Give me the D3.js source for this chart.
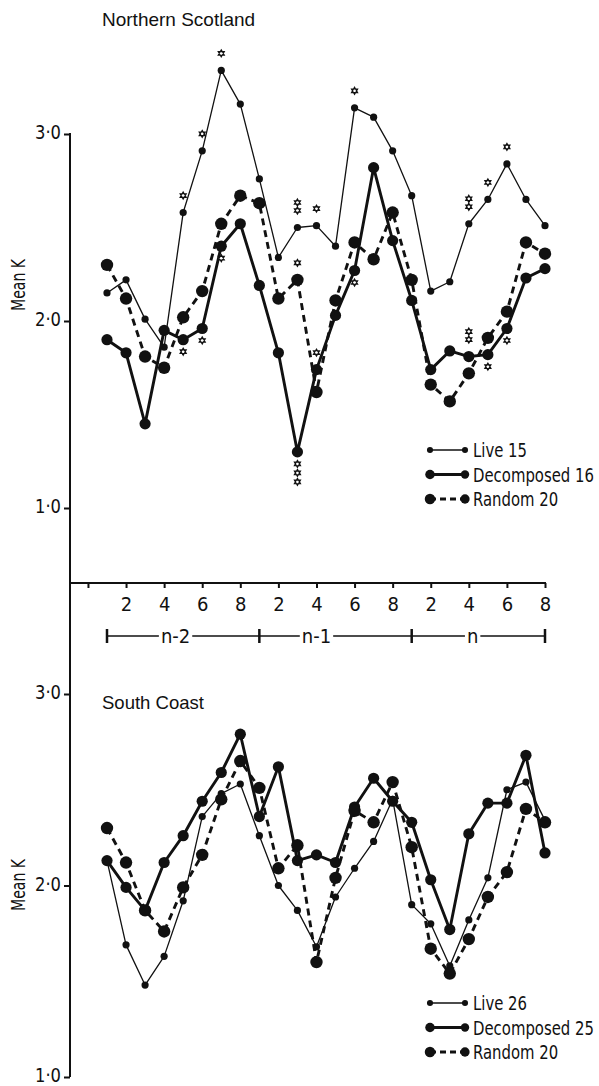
<!DOCTYPE html>
<html>
<head>
<meta charset="utf-8">
<script src="https://cdn.jsdelivr.net/npm/d3@7"></script>
<style>
  body { margin: 0; background: #fff; }
  text { font-family: "Liberation Sans Narrow", "DejaVu Sans Condensed", sans-serif; fill: #111; }
  text.title { font-family: "Liberation Sans", Arial, sans-serif; }
</style>
</head>
<body>
<div id="chart"></div>
<script>
// months 1..8 of three successive periods
const months = d3.range(24);
const tickMonths = d3.range(-1, 24, 2);
const tickLabels = ['', '2', '4', '6', '8', '2', '4', '6', '8', '2', '4', '6', '8'];
const periods = ['n-2', 'n-1', 'n'];
const periodBounds = [0, 8, 16, 23];
const yTicks = [1, 2, 3];

// Northern Scotland
const nsLive = [2.15, 2.22, 2.01, 1.86, 2.58, 2.91, 3.34, 3.16, 2.76, 2.34, 2.50, 2.51,
                2.40, 3.14, 3.09, 2.91, 2.67, 2.16, 2.21, 2.52, 2.65, 2.84, 2.65, 2.51];
const nsDecomposed = [1.90, 1.83, 1.45, 1.95, 1.90, 1.96, 2.40, 2.52, 2.19, 1.83, 1.30, 1.74,
                      2.03, 2.27, 2.82, 2.43, 2.11, 1.74, 1.84, 1.81, 1.82, 1.96, 2.23, 2.28];
const nsRandom = [2.30, 2.12, 1.81, 1.75, 2.02, 2.16, 2.52, 2.67, 2.63, 2.12, 2.22, 1.62,
                  2.11, 2.42, 2.33, 2.58, 2.22, 1.66, 1.57, 1.72, 1.91, 2.05, 2.42, 2.36];
const nsNames = ['Live 15', 'Decomposed 16', 'Random 20'];
// significance marks: [series, month index, count, above(-1)/below(+1)]
const nsStars = [
  ['live', 4, 1, -1], ['live', 5, 1, -1], ['live', 6, 1, -1],
  ['decomposed', 4, 1, 1], ['decomposed', 5, 1, 1], ['decomposed', 6, 1, 1],
  ['live', 10, 2, -1], ['live', 11, 1, -1], ['random', 10, 1, -1],
  ['decomposed', 10, 3, 1], ['decomposed', 11, 1, -1], ['live', 13, 1, -1],
  ['decomposed', 13, 1, 1], ['live', 19, 2, -1], ['live', 20, 1, -1], ['live', 21, 1, -1],
  ['decomposed', 19, 2, -1], ['decomposed', 20, 1, 1], ['decomposed', 21, 1, 1]
];

// South Coast
const scLive = [2.13, 1.69, 1.48, 1.63, 1.92, 2.36, 2.48, 2.53, 2.26, 2.00, 1.87, 1.68,
                1.94, 2.09, 2.23, 2.45, 1.90, 1.80, 1.58, 1.82, 2.04, 2.50, 2.54, 2.34];
const scDecomposed = [2.13, 1.99, 1.87, 2.12, 2.26, 2.44, 2.59, 2.79, 2.36, 2.62, 2.13, 2.16,
                      2.12, 2.41, 2.56, 2.44, 2.33, 2.03, 1.77, 2.27, 2.43, 2.43, 2.68, 2.17];
const scRandom = [2.30, 2.12, 1.87, 1.76, 1.99, 2.16, 2.45, 2.65, 2.51, 2.09, 2.21, 1.60,
                  2.04, 2.39, 2.33, 2.54, 2.20, 1.67, 1.54, 1.72, 1.94, 2.07, 2.40, 2.33];
const scNames = ['Live 26', 'Decomposed 25', 'Random 20'];

const width = 599, height = 1086;
const axisX = 70;

const style = {
  live: { w: 1.3, r: 3.6, dash: null },
  decomposed: { w: 2.9, r: 5.6, dash: null },
  random: { w: 2.9, r: 6.2, dash: '7,5' }
};
const keys = ['live', 'decomposed', 'random'];

const svg = d3.select('#chart').append('svg')
  .attr('width', width)
  .attr('height', height);

// narrow a text's glyphs (not its height) when the font runs wider than the space
function squeeze(sel, maxW) {
  sel.each(function () {
    const w = this.getComputedTextLength();
    if (w > maxW) {
      d3.select(this).attr('textLength', maxW).attr('lengthAdjust', 'spacingAndGlyphs');
    }
  });
}

const x = d3.scaleLinear().domain([0, 23]).range([107, 545]);
const yTop = d3.scaleLinear().domain([1, 3]).range([508, 134]);
const yBot = d3.scaleLinear().domain([1, 3]).range([1077, 694]);

// one long vertical axis line through both panels
svg.append('line')
  .attr('x1', axisX).attr('x2', axisX)
  .attr('y1', yTop(3) - 1).attr('y2', yBot(1))
  .attr('stroke', '#111').attr('stroke-width', 2);

const fmt = d => d.toFixed(1).replace('.', '\u00b7');

function yAxis(y) {
  const g = svg.append('g')
    .attr('transform', `translate(${axisX},0)`)
    .call(d3.axisLeft(y).tickValues(yTicks).tickFormat(fmt).tickSize(6).tickPadding(3));
  g.select('.domain').remove();
  g.selectAll('line').attr('stroke', '#111').attr('stroke-width', 2);
  g.selectAll('text').attr('font-size', 20).attr('fill', '#111')
    .attr('font-family', null)
    .attr('dy', '0.24em')
    .call(squeeze, 26);
}

function star(cx, cy) {
  const r = 3.6;
  const tri = a => d3.range(3).map(k => {
    const t = a + k * 2 * Math.PI / 3;
    return [cx + r * Math.sin(t), cy - r * Math.cos(t)];
  });
  return 'M' + tri(0).join('L') + 'Z' + 'M' + tri(Math.PI).join('L') + 'Z';
}

function panel(y, data, names, stars, title, titleY, titleW, meanKY, legendY) {
  yAxis(y);

  svg.append('text')
    .attr('class', 'title')
    .attr('x', 102).attr('y', titleY)
    .attr('font-size', 19)
    .text(title)
    .call(squeeze, titleW);

  svg.append('text')
    .attr('transform', `translate(25,${meanKY}) rotate(-90)`)
    .attr('text-anchor', 'middle')
    .attr('font-size', 20)
    .text('Mean K')
    .call(squeeze, 52);

  keys.forEach(k => {
    const s = style[k];
    const line = d3.line().x((d, i) => x(i)).y(d => y(d));
    svg.append('path')
      .datum(data[k])
      .attr('d', line)
      .attr('fill', 'none')
      .attr('stroke', '#111')
      .attr('stroke-width', s.w)
      .attr('stroke-dasharray', s.dash)
      .attr('stroke-linejoin', 'round');
    svg.append('g').selectAll('circle')
      .data(data[k])
      .enter()
      .append('circle')
      .attr('cx', (d, i) => x(i))
      .attr('cy', d => y(d))
      .attr('r', s.r)
      .attr('fill', '#111');
  });

  const starPts = [];
  stars.forEach(([k, i, n, side]) => {
    for (let j = 0; j < n; j++) {
      const off = side < 0 ? -(17 + j * 8) : (12 + j * 9);
      starPts.push([x(i), y(data[k][i]) + off]);
    }
  });
  svg.append('g').selectAll('path')
    .data(starPts)
    .enter()
    .append('path')
    .attr('d', d => star(d[0], d[1]))
    .attr('fill', '#fff')
    .attr('stroke', '#111')
    .attr('stroke-width', 1.1);

  // legend
  const lg = svg.append('g').attr('transform', `translate(430,${legendY})`);
  const texts = [];
  keys.forEach((k, i) => {
    const s = style[k];
    const row = lg.append('g').attr('transform', `translate(0,${i * 24.5})`);
    row.append('line')
      .attr('x1', 0).attr('x2', 35)
      .attr('stroke', '#111')
      .attr('stroke-width', s.w)
      .attr('stroke-dasharray', s.dash ? '6,4' : null);
    row.append('circle').attr('cx', 0).attr('r', s.r * 0.85).attr('fill', '#111');
    row.append('circle').attr('cx', 35).attr('r', k === 'live' ? s.r * 0.85 : s.r * 0.75).attr('fill', '#111');
    texts.push(row.append('text')
      .attr('font-size', 20)
      .text(names[i]));
  });
  // same horizontal narrowing for every row, set by the longest one
  const widest = d3.max(texts, t => t.node().getComputedTextLength());
  const k = Math.min(1, 121 / widest);
  texts.forEach(t => t.attr('transform', `translate(43,7) scale(${k},1)`));
}

panel(yTop, { live: nsLive, decomposed: nsDecomposed, random: nsRandom },
  nsNames, nsStars, 'Northern Scotland', 26, 157, 285, 450);
panel(yBot, { live: scLive, decomposed: scDecomposed, random: scRandom },
  scNames, [], 'South Coast', 709, 102, 885, 1003);

// x axis under the top panel
const axisY = 583;
svg.append('line')
  .attr('x1', axisX).attr('x2', x(23) + 1)
  .attr('y1', axisY).attr('y2', axisY)
  .attr('stroke', '#111').attr('stroke-width', 2);

const xg = svg.append('g')
  .attr('transform', `translate(0,${axisY})`)
  .call(d3.axisBottom(x).tickValues(tickMonths)
    .tickFormat((d, i) => tickLabels[i]).tickSize(5).tickPadding(9));
xg.select('.domain').remove();
xg.selectAll('line').attr('stroke', '#111').attr('stroke-width', 2);
xg.selectAll('text').attr('font-size', 20).attr('fill', '#111')
  .attr('font-family', null);

// period brackets
const bracketY = 636;
svg.append('line')
  .attr('x1', x(periodBounds[0])).attr('x2', x(periodBounds[3]))
  .attr('y1', bracketY).attr('y2', bracketY)
  .attr('stroke', '#111').attr('stroke-width', 1.5);
svg.append('g').selectAll('line')
  .data(periodBounds)
  .enter()
  .append('line')
  .attr('x1', d => x(d)).attr('x2', d => x(d))
  .attr('y1', bracketY - 7).attr('y2', bracketY + 7)
  .attr('stroke', '#111').attr('stroke-width', 2.5);

const labelAt = [3.6, 11, 19.2];
const pg = svg.append('g');
periods.forEach((p, i) => {
  const g = pg.append('g');
  const bg = g.append('rect').attr('fill', '#fff');
  const t = g.append('text')
    .attr('x', x(labelAt[i])).attr('y', bracketY + 7)
    .attr('text-anchor', 'middle')
    .attr('font-size', 20)
    .text(p);
  const b = t.node().getBBox();
  bg.attr('x', b.x - 2).attr('y', bracketY - 3)
    .attr('width', b.width + 4).attr('height', 6);
});
</script>
</body>
</html>
